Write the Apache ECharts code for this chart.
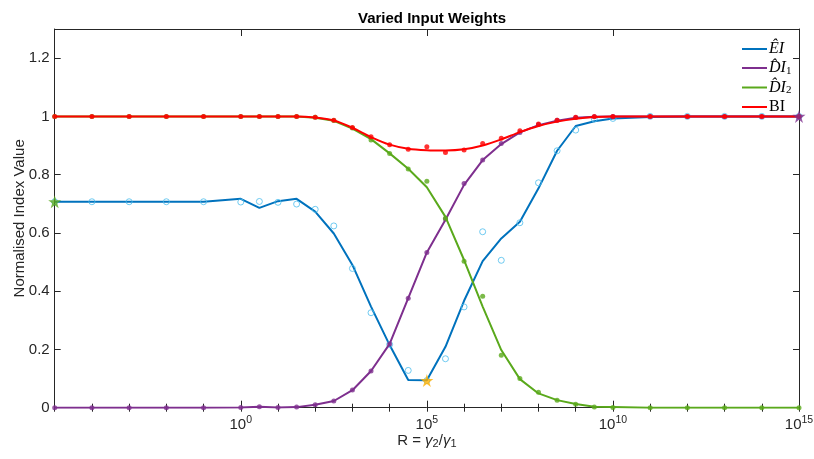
<!DOCTYPE html>
<html><head><meta charset="utf-8">
<script src="https://cdn.jsdelivr.net/npm/echarts@6/dist/echarts.min.js"></script>
<style>html,body{margin:0;padding:0;background:#fff}#c{width:814px;height:459px}</style>
</head><body><div id="c"></div>
<script>
// Sampled R = gamma2/gamma1 values
const R = [1e-5,1e-4,1e-3,1e-2,1e-1,1e0,
  3.162e0,1e1,3.162e1,1e2,3.162e2,1e3,3.162e3,1e4,3.162e4,1e5,
  3.162e5,1e6,3.162e6,1e7,3.162e7,1e8,3.162e8,1e9,3.162e9,1e10,
  1e11,1e12,1e13,1e14,1e15];

const EI_line = [0.707,0.707,0.707,0.707,0.707,0.717,
  0.686,0.709,0.717,0.673,0.598,0.490,0.347,0.215,0.095,0.094,
  0.209,0.367,0.503,0.581,0.638,0.753,0.882,0.967,0.983,0.993,
  0.998,1,1,1,1];
const EI_pts = [0.707,0.707,0.707,0.707,0.707,0.706,
  0.708,0.705,0.699,0.681,0.624,0.478,0.326,0.217,0.128,0.093,
  0.168,0.346,0.604,0.506,0.635,0.772,0.882,0.953,0.991,0.993,
  1,1,1,1,1];
const DI1_line = [0,0,0,0,0,0.001,
  0.003,0.001,0.002,0.010,0.023,0.060,0.126,0.219,0.376,0.533,
  0.645,0.765,0.850,0.905,0.945,0.970,0.985,0.995,0.999,1.0,
  1,1,1,1,1];
const DI1_pts = [0,0,0,0,0,0.001,
  0.003,0.001,0.002,0.010,0.023,0.061,0.126,0.219,0.376,0.533,
  0.648,0.770,0.850,0.907,0.945,0.972,0.987,0.996,0.999,1.0,
  1,1,1,1,1];
const DI2_line = [1,1,1,1,1,1,
  1,1,1,0.995,0.985,0.958,0.922,0.873,0.820,0.757,
  0.655,0.507,0.347,0.198,0.098,0.049,0.026,0.013,0.003,0.002,
  0,0,0,0,0];
const DI2_pts = [1,1,1,1,1,1,
  1,1,1,0.997,0.986,0.960,0.919,0.873,0.819,0.777,
  0.650,0.503,0.383,0.180,0.100,0.053,0.026,0.012,0.002,0.001,
  0,0,0,0,0];
const BI_line = [1,1,1,1,1,1,
  1,1,1,0.996,0.986,0.961,0.929,0.903,0.889,0.884,
  0.883,0.887,0.900,0.921,0.946,0.967,0.982,0.992,0.998,1.0,
  1,1,1,1,1];
const BI_pts = [1,1,1,1,1,1,
  1,1,1,0.997,0.987,0.962,0.930,0.903,0.887,0.896,
  0.876,0.885,0.907,0.925,0.951,0.974,0.987,0.997,1.0,1.0,
  1,1,1,1,1];

const starGreen = [[1e-5, 0.707]];
const starOrange = [[1e5, 0.093]];
const starPurple = [[1e15, 1.0]];

const TITLE = 'Varied Input Weights';
const Y_NAME = 'Normalised Index Value';
const X_TICK_EXP = [0, 5, 10, 15];

const C_BLUE = '#0072BD', C_LBLUE = '#4DBEEE', C_PURPLE = '#7E2F8E',
      C_GREEN = '#5AA91C', C_RED = '#FF0000', C_ORANGE = '#FFB000', AX = '#262626';
const SANS = '"Liberation Sans", Arial, Helvetica, sans-serif';
const SERIF = '"Liberation Serif", "DejaVu Serif", serif';
const STAR = 'path://M50,0 L61.2,34.5 L97.6,34.5 L68.2,55.9 L79.4,90.5 L50,69.1 L20.6,90.5 L31.8,55.9 L2.4,34.5 L38.8,34.5 Z';

const zip = a => R.map((r, i) => [r, a[i]]);

const chart = echarts.init(document.getElementById('c'), null, {renderer: 'canvas'});

const xBase = {
  type: 'log', logBase: 10, min: 1e-5, max: 1e15, gridIndex: 0,
  splitLine: {show: false}, minorTick: {show: false},
  axisLine: {onZero: false, lineStyle: {color: AX, width: 1}},
  axisTick: {inside: true, lineStyle: {color: AX, width: 1}},
};
const yBase = {
  type: 'value', min: 0, max: 1.3, interval: 0.2, gridIndex: 0,
  splitLine: {show: false},
  axisLine: {onZero: false, lineStyle: {color: AX, width: 1}},
  axisTick: {inside: true, length: 6, lineStyle: {color: AX, width: 1}},
};

const legendNames = {
  EI: '{it|Ê}{it|I}',
  DI1: '{it|D\u0302I}{sub|1}',
  DI2: '{it|D\u0302I}{sub|2}',
  BI: '{rm|BI}'
};

chart.setOption({
  animation: false,
  backgroundColor: '#fff',
  title: {
    text: TITLE, left: 427, top: 6, textAlign: 'center',
    textStyle: {fontFamily: SANS, fontSize: 15, fontWeight: 'bold', color: '#000'}
  },
  grid: {left: 54.7, right: 15, top: 29, bottom: 51.3, containLabel: false, outerBoundsMode: 'none'},
  legend: {
    data: ['EI', 'DI1', 'DI2', 'BI'],
    orient: 'vertical', left: 737, top: 36,
    itemWidth: 25, itemHeight: 2, itemGap: 3, icon: 'rect',
    formatter: n => legendNames[n],
    textStyle: {
      fontFamily: SERIF, fontSize: 16, color: '#000', padding: [0, 0, 0, -3],
      rich: {
        it: {fontFamily: SERIF, fontSize: 16, fontStyle: 'italic', color: '#000', lineHeight: 17},
        rm: {fontFamily: SERIF, fontSize: 16, color: '#000', lineHeight: 17},
        sub: {fontFamily: SERIF, fontSize: 11, color: '#000', verticalAlign: 'bottom', lineHeight: 10}
      }
    }
  },
  xAxis: [
    Object.assign({}, xBase, {
      position: 'bottom', interval: 5,
      axisTick: {inside: true, length: 7, lineStyle: {color: AX, width: 1}},
      axisLabel: {
        margin: 7, color: AX,
        formatter: v => {
          const e = Math.round(Math.log10(v));
          if (X_TICK_EXP.indexOf(e) < 0) return '';
          return '{b|10}{s|' + e + '}';
        },
        rich: {
          b: {fontFamily: SANS, fontSize: 15, color: AX, lineHeight: 18, verticalAlign: 'bottom'},
          s: {fontFamily: SANS, fontSize: 10.5, color: AX, lineHeight: 12, verticalAlign: 'top'}
        }
      },
      name: '{n|R = }{g|γ}{sub|2}{n|/}{g|γ}{sub|1}', nameLocation: 'middle', nameGap: 24,
      nameMoveOverlap: false,
      nameTextStyle: {
        rich: {
          n: {fontFamily: SANS, fontSize: 15, color: AX, lineHeight: 18},
          g: {fontFamily: SANS, fontSize: 15, fontStyle: 'italic', color: AX, lineHeight: 18},
          sub: {fontFamily: SANS, fontSize: 11, color: AX, verticalAlign: 'bottom', lineHeight: 10}
        }
      }
    }),
    Object.assign({}, xBase, {
      position: 'bottom', interval: 1, axisLine: {show: false},
      axisTick: {inside: true, length: 4, lineStyle: {color: AX, width: 1}},
      axisLabel: {show: false}
    }),
    Object.assign({}, xBase, {
      position: 'top', interval: 5,
      axisTick: {inside: true, length: 7, lineStyle: {color: AX, width: 1}},
      axisLabel: {show: false}
    }),
    Object.assign({}, xBase, {
      position: 'top', interval: 1, axisLine: {show: false},
      axisTick: {inside: true, length: 4, lineStyle: {color: AX, width: 1}},
      axisLabel: {show: false}
    })
  ],
  yAxis: [
    Object.assign({}, yBase, {
      position: 'left',
      axisLabel: {margin: 5, color: AX, fontFamily: SANS, fontSize: 15, showMaxLabel: false,
        formatter: v => (Math.abs(v - 1.3) < 1e-6 ? '' : String(Math.round(v * 10) / 10))},
      name: Y_NAME, nameLocation: 'middle', nameGap: 27, nameRotate: 90,
      nameMoveOverlap: false,
      nameTextStyle: {fontFamily: SANS, fontSize: 15, color: AX}
    }),
    Object.assign({}, yBase, {position: 'right', axisLabel: {show: false}})
  ],
  series: [
    {name: 'EI', type: 'line', data: zip(EI_line), showSymbol: false, symbol: 'none',
     lineStyle: {color: C_BLUE, width: 2}, itemStyle: {color: C_BLUE}, z: 2},
    {name: 'EI_pts', type: 'scatter', data: zip(EI_pts), symbol: 'circle', symbolSize: 6,
     itemStyle: {color: 'rgba(0,0,0,0)', borderColor: C_LBLUE, borderWidth: 1}, z: 3, clip: false},
    {name: 'DI1', type: 'line', data: zip(DI1_line), showSymbol: false, symbol: 'none',
     lineStyle: {color: C_PURPLE, width: 2}, itemStyle: {color: C_PURPLE}, z: 4},
    {name: 'DI1_pts', type: 'scatter', data: zip(DI1_pts), symbol: 'circle', symbolSize: 5,
     itemStyle: {color: C_PURPLE}, z: 5, clip: false},
    {name: 'DI2', type: 'line', data: zip(DI2_line), showSymbol: false, symbol: 'none',
     lineStyle: {color: C_GREEN, width: 2}, itemStyle: {color: C_GREEN}, z: 6},
    {name: 'DI2_pts', type: 'scatter', data: zip(DI2_pts), symbol: 'circle', symbolSize: 5,
     itemStyle: {color: C_GREEN}, z: 7, clip: false},
    {name: 'BI', type: 'line', data: zip(BI_line), showSymbol: false, symbol: 'none', smooth: 0.25,
     lineStyle: {color: C_RED, width: 2}, itemStyle: {color: C_RED}, z: 8},
    {name: 'BI_pts', type: 'scatter', data: zip(BI_pts), symbol: 'circle', symbolSize: 5,
     itemStyle: {color: C_RED}, z: 9, clip: false},
    {name: 'star_g', type: 'scatter', data: starGreen, symbol: STAR, symbolSize: 13,
     itemStyle: {color: C_GREEN}, z: 10, clip: false},
    {name: 'star_o', type: 'scatter', data: starOrange, symbol: STAR, symbolSize: 13,
     itemStyle: {color: C_ORANGE}, z: 10, clip: false},
    {name: 'star_p', type: 'scatter', data: starPurple, symbol: STAR, symbolSize: 13,
     itemStyle: {color: C_PURPLE}, z: 10, clip: false}
  ]
});
</script>
</body></html>
